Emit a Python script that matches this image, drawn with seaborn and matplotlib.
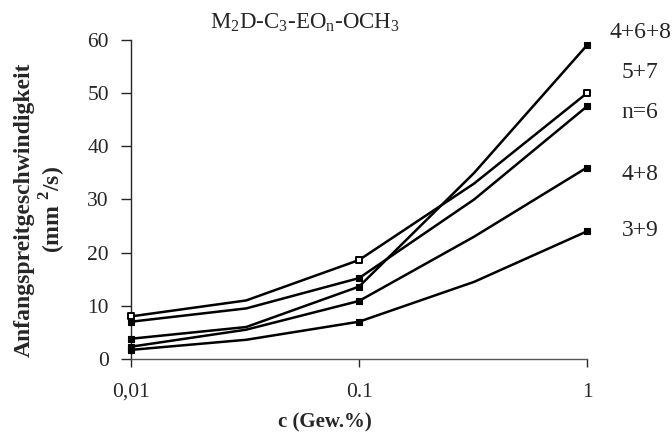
import pandas as pd
import seaborn as sns
import matplotlib
matplotlib.use('Agg')
import matplotlib.pyplot as plt
from matplotlib.ticker import NullLocator

conc = [0.01, 0.032, 0.1, 0.32, 1.0]
measured = [0.01, 0.1, 1.0]

# Values (mm^2/s)
s_468 = [3.8, 6.0, 13.6, 35.0, 59.0]
s_57 = [8.0, 11.0, 18.6, 33.0, 50.0]
s_n6 = [7.0, 9.5, 15.2, 30.0, 47.5]
s_48 = [2.3, 5.5, 10.9, 23.0, 36.0]
s_39 = [1.7, 3.6, 7.0, 14.5, 24.0]

series_names = ['4+6+8', '5+7', 'n=6', '4+8', '3+9']
series_vals = [s_468, s_57, s_n6, s_48, s_39]

xtick_vals = [0.01, 0.1, 1]
xtick_labels = ['0,01', '0.1', '1']
ytick_vals = [0, 10, 20, 30, 40, 50, 60]

# long-form table for seaborn
rows = []
for name, vals in zip(series_names, series_vals):
    for c, v in zip(conc, vals):
        rows.append({'c': c, 'v': v, 'serie': name, 'point': c in measured})
df = pd.DataFrame(rows)

sns.set_style('ticks')
plt.rcParams['font.family'] = ['Liberation Serif', 'DejaVu Serif']
plt.rcParams['mathtext.fontset'] = 'custom'
plt.rcParams['mathtext.rm'] = 'Liberation Serif'
plt.rcParams['mathtext.bf'] = 'Liberation Serif:bold'

fig = plt.figure(figsize=(6.72, 4.34), dpi=100)
ax = fig.add_axes([0.195, 0.173, 0.6785, 0.735])

palette = {n: 'black' for n in series_names}
sns.lineplot(data=df, x='c', y='v', hue='serie', palette=palette, linewidth=1.8,
             legend=False, ax=ax, sort=True)

pts = df[df['point']]
filled = pts[pts['serie'] != '5+7']
hollow = pts[pts['serie'] == '5+7']
sns.scatterplot(data=filled, x='c', y='v', marker='s', s=24, color='black',
                edgecolor='black', linewidth=0.8, legend=False, ax=ax, zorder=5, clip_on=False)
sns.scatterplot(data=hollow, x='c', y='v', marker='s', s=24, color='white',
                edgecolor='black', linewidth=1.4, legend=False, ax=ax, zorder=5, clip_on=False)

ax.set_xscale('log')
ax.set_xlim(0.01, 1.0)
ax.set_ylim(0, 60)
ax.set_xticks(xtick_vals)
ax.set_xticklabels(xtick_labels)
ax.xaxis.set_minor_locator(NullLocator())
ax.set_yticks(ytick_vals)
ax.tick_params(axis='x', length=6, width=1, pad=11, labelsize=15.5)
ax.tick_params(axis='y', length=7, width=1, pad=9, labelsize=15.5)
sns.despine(ax=ax)
ax.spines['left'].set_linewidth(1)
ax.spines['bottom'].set_linewidth(1)
ax.spines['bottom'].set_color('#555555')

ax.set_xlabel('c (Gew.%)', fontsize=15, fontweight='bold')
ax.xaxis.set_label_coords(0.425, -0.198)
ax.xaxis.label.set_va('center')
ax.set_ylabel('Anfangspreitgeschwindigkeit\n(mm $^{\\mathbf{2}}$/s)', fontsize=17,
              fontweight='bold', linespacing=1.15)
ax.yaxis.set_label_coords(-0.138, 0.467)

fig.text(210 / 672, 1 - 23 / 434, r'M$_2$D-C$_3$-EO$_\mathrm{n}$-OCH$_3$', fontsize=16.5,
         ha='left', va='center')

label_y = [33, 73, 113, 175, 230]
for name, y in zip(series_names, label_y):
    fig.text(640 / 672, 1 - y / 434, name, fontsize=17, ha='center', va='center')

fig.savefig('out.png', dpi=100)
